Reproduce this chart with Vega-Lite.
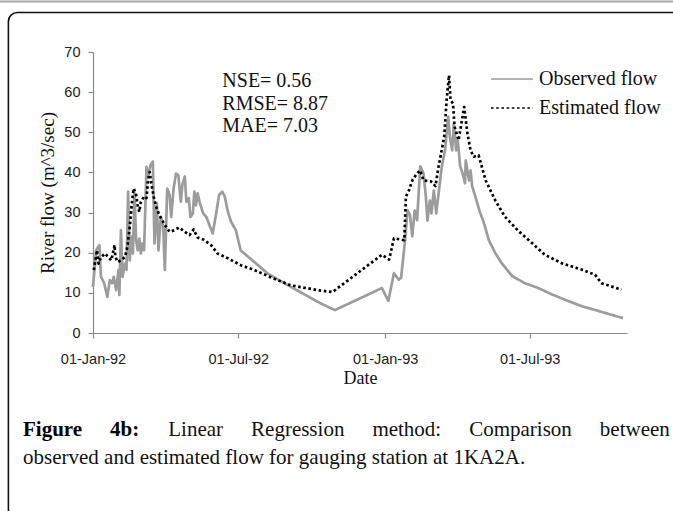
{
  "$schema": "https://vega.github.io/schema/vega-lite/v6.json",
  "width": 534,
  "height": 281,
  "autosize": {"type": "none"},
  "padding": {"left": 93, "top": 52, "right": 46, "bottom": 178},
  "background": "#ffffff",
  "config": {
    "view": {"stroke": null},
    "axis": {
      "grid": false,
      "domainColor": "#8a8a8a",
      "domainWidth": 1.2,
      "tickColor": "#8a8a8a",
      "tickWidth": 1.2,
      "tickSize": 5,
      "labelFont": "Liberation Sans",
      "labelFontSize": 14.5,
      "labelColor": "#222222",
      "titleFont": "Liberation Serif",
      "titleFontWeight": "normal",
      "titleColor": "#111111"
    },
    "legend": {
      "orient": "none",
      "legendX": 397,
      "legendY": 16,
      "symbolType": "stroke",
      "symbolSize": 1764,
      "clipHeight": 22,
      "labelFont": "Liberation Serif",
      "labelFontSize": 20,
      "labelColor": "#111111",
      "labelOffset": 5,
      "rowPadding": 7
    }
  },
  "title": {
    "text": "Figure\u00a0\u00a0\u00a0\u00a0\u00a0\u200a4b:",
    "subtitle": [
      "\u200b\u00a0\u00a0\u00a0\u00a0\u00a0\u00a0\u00a0\u00a0\u00a0\u00a0\u00a0\u00a0\u00a0\u00a0\u00a0\u00a0\u00a0\u00a0\u00a0\u00a0\u00a0\u00a0\u00a0\u00a0\u00a0\u00a0\u00a0\u200a\u200aLinear\u00a0\u00a0\u00a0\u00a0\u00a0\u200aRegression\u00a0\u00a0\u00a0\u00a0\u00a0\u200amethod:\u00a0\u00a0\u00a0\u00a0\u00a0\u200aComparison\u00a0\u00a0\u00a0\u00a0\u00a0\u200abetween",
      "observed and estimated flow for gauging station at 1KA2A."
    ],
    "orient": "bottom",
    "anchor": "start",
    "frame": "group",
    "dx": -70,
    "offset": -99,
    "font": "Liberation Serif",
    "fontSize": 21,
    "fontWeight": "bold",
    "color": "#000000",
    "subtitleFont": "Liberation Serif",
    "subtitleFontSize": 21,
    "subtitleFontWeight": "normal",
    "subtitleColor": "#111111",
    "subtitlePadding": -21,
    "subtitleLineHeight": 28
  },
  "datasets": {
    "flows": [
      {"date": "1992-01-01", "series": "Observed flow", "flow": 11.5},
      {"date": "1992-01-05", "series": "Observed flow", "flow": 20.6},
      {"date": "1992-01-09", "series": "Observed flow", "flow": 21.9},
      {"date": "1992-01-11", "series": "Observed flow", "flow": 14},
      {"date": "1992-01-15", "series": "Observed flow", "flow": 12.4},
      {"date": "1992-01-19", "series": "Observed flow", "flow": 9},
      {"date": "1992-01-22", "series": "Observed flow", "flow": 13.2},
      {"date": "1992-01-25", "series": "Observed flow", "flow": 12.4},
      {"date": "1992-01-27", "series": "Observed flow", "flow": 14},
      {"date": "1992-01-30", "series": "Observed flow", "flow": 10.7},
      {"date": "1992-02-02", "series": "Observed flow", "flow": 15.7},
      {"date": "1992-02-03", "series": "Observed flow", "flow": 9.5},
      {"date": "1992-02-05", "series": "Observed flow", "flow": 25.6},
      {"date": "1992-02-07", "series": "Observed flow", "flow": 14},
      {"date": "1992-02-10", "series": "Observed flow", "flow": 17.3},
      {"date": "1992-02-12", "series": "Observed flow", "flow": 15.7},
      {"date": "1992-02-14", "series": "Observed flow", "flow": 35.2},
      {"date": "1992-02-16", "series": "Observed flow", "flow": 18.1},
      {"date": "1992-02-18", "series": "Observed flow", "flow": 24},
      {"date": "1992-02-20", "series": "Observed flow", "flow": 19.8},
      {"date": "1992-02-22", "series": "Observed flow", "flow": 34.8},
      {"date": "1992-02-24", "series": "Observed flow", "flow": 23.1},
      {"date": "1992-02-26", "series": "Observed flow", "flow": 20.6},
      {"date": "1992-02-28", "series": "Observed flow", "flow": 23.5},
      {"date": "1992-03-01", "series": "Observed flow", "flow": 19.8},
      {"date": "1992-03-03", "series": "Observed flow", "flow": 22.3},
      {"date": "1992-03-05", "series": "Observed flow", "flow": 20.6},
      {"date": "1992-03-08", "series": "Observed flow", "flow": 41.4},
      {"date": "1992-03-10", "series": "Observed flow", "flow": 38.9},
      {"date": "1992-03-13", "series": "Observed flow", "flow": 41.8},
      {"date": "1992-03-16", "series": "Observed flow", "flow": 42.7},
      {"date": "1992-03-18", "series": "Observed flow", "flow": 22.3},
      {"date": "1992-03-21", "series": "Observed flow", "flow": 32.3},
      {"date": "1992-03-23", "series": "Observed flow", "flow": 20.6},
      {"date": "1992-03-26", "series": "Observed flow", "flow": 28.9},
      {"date": "1992-03-29", "series": "Observed flow", "flow": 26.4},
      {"date": "1992-03-31", "series": "Observed flow", "flow": 15.7},
      {"date": "1992-04-03", "series": "Observed flow", "flow": 36},
      {"date": "1992-04-06", "series": "Observed flow", "flow": 34.4},
      {"date": "1992-04-08", "series": "Observed flow", "flow": 28.9},
      {"date": "1992-04-11", "series": "Observed flow", "flow": 36},
      {"date": "1992-04-14", "series": "Observed flow", "flow": 39.7},
      {"date": "1992-04-17", "series": "Observed flow", "flow": 39.3},
      {"date": "1992-04-20", "series": "Observed flow", "flow": 32.7},
      {"date": "1992-04-22", "series": "Observed flow", "flow": 36.9},
      {"date": "1992-04-25", "series": "Observed flow", "flow": 39},
      {"date": "1992-04-27", "series": "Observed flow", "flow": 32.7},
      {"date": "1992-04-30", "series": "Observed flow", "flow": 33.6},
      {"date": "1992-05-02", "series": "Observed flow", "flow": 28.9},
      {"date": "1992-05-05", "series": "Observed flow", "flow": 29.7},
      {"date": "1992-05-07", "series": "Observed flow", "flow": 35.2},
      {"date": "1992-05-09", "series": "Observed flow", "flow": 31.8},
      {"date": "1992-05-11", "series": "Observed flow", "flow": 34.8},
      {"date": "1992-05-14", "series": "Observed flow", "flow": 32.3},
      {"date": "1992-05-18", "series": "Observed flow", "flow": 29.8},
      {"date": "1992-05-22", "series": "Observed flow", "flow": 28.9},
      {"date": "1992-05-26", "series": "Observed flow", "flow": 26.8},
      {"date": "1992-05-30", "series": "Observed flow", "flow": 24.8},
      {"date": "1992-06-03", "series": "Observed flow", "flow": 29.4},
      {"date": "1992-06-07", "series": "Observed flow", "flow": 34.4},
      {"date": "1992-06-11", "series": "Observed flow", "flow": 35.2},
      {"date": "1992-06-14", "series": "Observed flow", "flow": 34},
      {"date": "1992-06-18", "series": "Observed flow", "flow": 30.2},
      {"date": "1992-06-22", "series": "Observed flow", "flow": 27.7},
      {"date": "1992-06-28", "series": "Observed flow", "flow": 25.6},
      {"date": "1992-07-04", "series": "Observed flow", "flow": 20.6},
      {"date": "1992-07-11", "series": "Observed flow", "flow": 19.4},
      {"date": "1992-07-21", "series": "Observed flow", "flow": 17.7},
      {"date": "1992-08-07", "series": "Observed flow", "flow": 14.8},
      {"date": "1992-09-12", "series": "Observed flow", "flow": 10.7},
      {"date": "1992-10-11", "series": "Observed flow", "flow": 7.5},
      {"date": "1992-10-30", "series": "Observed flow", "flow": 5.7},
      {"date": "1992-12-28", "series": "Observed flow", "flow": 11.2},
      {"date": "1993-01-05", "series": "Observed flow", "flow": 8},
      {"date": "1993-01-12", "series": "Observed flow", "flow": 14.9},
      {"date": "1993-01-18", "series": "Observed flow", "flow": 13.3},
      {"date": "1993-01-21", "series": "Observed flow", "flow": 13.8},
      {"date": "1993-01-26", "series": "Observed flow", "flow": 23.1},
      {"date": "1993-01-29", "series": "Observed flow", "flow": 30.6},
      {"date": "1993-02-01", "series": "Observed flow", "flow": 29.5},
      {"date": "1993-02-04", "series": "Observed flow", "flow": 24.1},
      {"date": "1993-02-07", "series": "Observed flow", "flow": 30.5},
      {"date": "1993-02-10", "series": "Observed flow", "flow": 28.1},
      {"date": "1993-02-14", "series": "Observed flow", "flow": 41.5},
      {"date": "1993-02-18", "series": "Observed flow", "flow": 39.8},
      {"date": "1993-02-21", "series": "Observed flow", "flow": 34},
      {"date": "1993-02-23", "series": "Observed flow", "flow": 28},
      {"date": "1993-02-26", "series": "Observed flow", "flow": 33},
      {"date": "1993-02-28", "series": "Observed flow", "flow": 29.8},
      {"date": "1993-03-03", "series": "Observed flow", "flow": 35.5},
      {"date": "1993-03-06", "series": "Observed flow", "flow": 29.8},
      {"date": "1993-03-09", "series": "Observed flow", "flow": 34.8},
      {"date": "1993-03-13", "series": "Observed flow", "flow": 41.5},
      {"date": "1993-03-17", "series": "Observed flow", "flow": 45.5},
      {"date": "1993-03-21", "series": "Observed flow", "flow": 53.9},
      {"date": "1993-03-23", "series": "Observed flow", "flow": 48.9},
      {"date": "1993-03-26", "series": "Observed flow", "flow": 45.5},
      {"date": "1993-03-28", "series": "Observed flow", "flow": 52.2},
      {"date": "1993-03-31", "series": "Observed flow", "flow": 45.5},
      {"date": "1993-04-02", "series": "Observed flow", "flow": 48},
      {"date": "1993-04-05", "series": "Observed flow", "flow": 41.5},
      {"date": "1993-04-08", "series": "Observed flow", "flow": 39.8},
      {"date": "1993-04-11", "series": "Observed flow", "flow": 37.3},
      {"date": "1993-04-12", "series": "Observed flow", "flow": 43},
      {"date": "1993-04-16", "series": "Observed flow", "flow": 38},
      {"date": "1993-04-18", "series": "Observed flow", "flow": 40.5},
      {"date": "1993-04-20", "series": "Observed flow", "flow": 36.6},
      {"date": "1993-04-24", "series": "Observed flow", "flow": 34},
      {"date": "1993-04-30", "series": "Observed flow", "flow": 29.9},
      {"date": "1993-05-04", "series": "Observed flow", "flow": 27.9},
      {"date": "1993-05-11", "series": "Observed flow", "flow": 23.1},
      {"date": "1993-05-19", "series": "Observed flow", "flow": 19.9},
      {"date": "1993-05-27", "series": "Observed flow", "flow": 17.4},
      {"date": "1993-06-09", "series": "Observed flow", "flow": 14.2},
      {"date": "1993-06-25", "series": "Observed flow", "flow": 12.4},
      {"date": "1993-07-12", "series": "Observed flow", "flow": 11.2},
      {"date": "1993-07-29", "series": "Observed flow", "flow": 9.6},
      {"date": "1993-08-14", "series": "Observed flow", "flow": 8.3},
      {"date": "1993-09-04", "series": "Observed flow", "flow": 6.7},
      {"date": "1993-09-25", "series": "Observed flow", "flow": 5.5},
      {"date": "1993-10-26", "series": "Observed flow", "flow": 3.7},
      {"date": "1992-01-02", "series": "Estimated flow", "flow": 15.7},
      {"date": "1992-01-04", "series": "Estimated flow", "flow": 18.1},
      {"date": "1992-01-06", "series": "Estimated flow", "flow": 20.6},
      {"date": "1992-01-08", "series": "Estimated flow", "flow": 17.3},
      {"date": "1992-01-11", "series": "Estimated flow", "flow": 18.9},
      {"date": "1992-01-16", "series": "Estimated flow", "flow": 19.8},
      {"date": "1992-01-20", "series": "Estimated flow", "flow": 18.9},
      {"date": "1992-01-24", "series": "Estimated flow", "flow": 18.1},
      {"date": "1992-01-28", "series": "Estimated flow", "flow": 21.9},
      {"date": "1992-01-29", "series": "Estimated flow", "flow": 19},
      {"date": "1992-02-01", "series": "Estimated flow", "flow": 17.7},
      {"date": "1992-02-05", "series": "Estimated flow", "flow": 18.1},
      {"date": "1992-02-10", "series": "Estimated flow", "flow": 18.9},
      {"date": "1992-02-13", "series": "Estimated flow", "flow": 21.4},
      {"date": "1992-02-16", "series": "Estimated flow", "flow": 26.4},
      {"date": "1992-02-19", "series": "Estimated flow", "flow": 33.1},
      {"date": "1992-02-21", "series": "Estimated flow", "flow": 36},
      {"date": "1992-02-24", "series": "Estimated flow", "flow": 34.4},
      {"date": "1992-02-26", "series": "Estimated flow", "flow": 31.8},
      {"date": "1992-02-28", "series": "Estimated flow", "flow": 30.2},
      {"date": "1992-03-01", "series": "Estimated flow", "flow": 32.7},
      {"date": "1992-03-05", "series": "Estimated flow", "flow": 34},
      {"date": "1992-03-08", "series": "Estimated flow", "flow": 33.6},
      {"date": "1992-03-10", "series": "Estimated flow", "flow": 38.1},
      {"date": "1992-03-12", "series": "Estimated flow", "flow": 40.1},
      {"date": "1992-03-14", "series": "Estimated flow", "flow": 37.3},
      {"date": "1992-03-17", "series": "Estimated flow", "flow": 34},
      {"date": "1992-03-20", "series": "Estimated flow", "flow": 31.5},
      {"date": "1992-03-24", "series": "Estimated flow", "flow": 29.4},
      {"date": "1992-03-31", "series": "Estimated flow", "flow": 26.9},
      {"date": "1992-04-06", "series": "Estimated flow", "flow": 25.2},
      {"date": "1992-04-12", "series": "Estimated flow", "flow": 25.6},
      {"date": "1992-04-18", "series": "Estimated flow", "flow": 26.3},
      {"date": "1992-04-25", "series": "Estimated flow", "flow": 25.2},
      {"date": "1992-05-01", "series": "Estimated flow", "flow": 24.4},
      {"date": "1992-05-06", "series": "Estimated flow", "flow": 25.8},
      {"date": "1992-05-11", "series": "Estimated flow", "flow": 23.8},
      {"date": "1992-05-18", "series": "Estimated flow", "flow": 23.3},
      {"date": "1992-05-28", "series": "Estimated flow", "flow": 21.9},
      {"date": "1992-06-05", "series": "Estimated flow", "flow": 19.8},
      {"date": "1992-06-18", "series": "Estimated flow", "flow": 18.6},
      {"date": "1992-07-04", "series": "Estimated flow", "flow": 16.9},
      {"date": "1992-07-21", "series": "Estimated flow", "flow": 15.7},
      {"date": "1992-08-07", "series": "Estimated flow", "flow": 14.2},
      {"date": "1992-09-04", "series": "Estimated flow", "flow": 11.9},
      {"date": "1992-10-11", "series": "Estimated flow", "flow": 10.6},
      {"date": "1992-10-27", "series": "Estimated flow", "flow": 10.2},
      {"date": "1992-12-28", "series": "Estimated flow", "flow": 19.5},
      {"date": "1993-01-06", "series": "Estimated flow", "flow": 18.3},
      {"date": "1993-01-12", "series": "Estimated flow", "flow": 23.6},
      {"date": "1993-01-25", "series": "Estimated flow", "flow": 23.1},
      {"date": "1993-01-27", "series": "Estimated flow", "flow": 34},
      {"date": "1993-01-31", "series": "Estimated flow", "flow": 35.6},
      {"date": "1993-02-04", "series": "Estimated flow", "flow": 38},
      {"date": "1993-02-10", "series": "Estimated flow", "flow": 39.8},
      {"date": "1993-02-14", "series": "Estimated flow", "flow": 40.5},
      {"date": "1993-02-18", "series": "Estimated flow", "flow": 38},
      {"date": "1993-02-27", "series": "Estimated flow", "flow": 37.8},
      {"date": "1993-03-05", "series": "Estimated flow", "flow": 36.6},
      {"date": "1993-03-09", "series": "Estimated flow", "flow": 41.5},
      {"date": "1993-03-16", "series": "Estimated flow", "flow": 48.9},
      {"date": "1993-03-19", "series": "Estimated flow", "flow": 58},
      {"date": "1993-03-22", "series": "Estimated flow", "flow": 64.2},
      {"date": "1993-03-24", "series": "Estimated flow", "flow": 58},
      {"date": "1993-03-27", "series": "Estimated flow", "flow": 57.2},
      {"date": "1993-03-29", "series": "Estimated flow", "flow": 51.4},
      {"date": "1993-04-03", "series": "Estimated flow", "flow": 48},
      {"date": "1993-04-10", "series": "Estimated flow", "flow": 56.3},
      {"date": "1993-04-14", "series": "Estimated flow", "flow": 49.8},
      {"date": "1993-04-18", "series": "Estimated flow", "flow": 45.5},
      {"date": "1993-04-22", "series": "Estimated flow", "flow": 43.9},
      {"date": "1993-04-28", "series": "Estimated flow", "flow": 44.3},
      {"date": "1993-05-07", "series": "Estimated flow", "flow": 38},
      {"date": "1993-05-19", "series": "Estimated flow", "flow": 33},
      {"date": "1993-05-31", "series": "Estimated flow", "flow": 29},
      {"date": "1993-06-17", "series": "Estimated flow", "flow": 25.4},
      {"date": "1993-07-04", "series": "Estimated flow", "flow": 22.4},
      {"date": "1993-07-20", "series": "Estimated flow", "flow": 19.5},
      {"date": "1993-08-10", "series": "Estimated flow", "flow": 17.4},
      {"date": "1993-09-04", "series": "Estimated flow", "flow": 15.8},
      {"date": "1993-09-21", "series": "Estimated flow", "flow": 14.5},
      {"date": "1993-09-29", "series": "Estimated flow", "flow": 12.4},
      {"date": "1993-10-24", "series": "Estimated flow", "flow": 10.8}
    ],
    "frame": [{"kind": "frame"}]
  },
  "layer": [
    {
      "data": {"name": "frame"},
      "mark": {"type": "rect", "filled": false, "stroke": "#111111", "strokeWidth": 1.6, "cornerRadius": 9, "clip": false},
      "encoding": {
        "x": {"datum": {"year": 1991, "month": 9, "date": 17}, "type": "temporal", "scale": {"domain": [{"year": 1992, "month": 1, "date": 1}, {"year": 1993, "month": 10, "date": 31}]}},
        "x2": {"datum": {"year": 1994, "month": 3, "date": 1}},
        "y": {"datum": 79.85, "type": "quantitative", "scale": {"domain": [0, 70], "nice": false}},
        "y2": {"datum": -46}
      }
    },
    {
      "data": {"name": "frame"},
      "mark": {"type": "rule", "stroke": "#a8a8a8", "strokeWidth": 2, "clip": false},
      "encoding": {
        "x": {"datum": {"year": 1991, "month": 8, "date": 1}, "type": "temporal"},
        "x2": {"datum": {"year": 1994, "month": 3, "date": 1}},
        "y": {"datum": 82.6, "type": "quantitative"}
      }
    },
    {
      "data": {"name": "flows"},
      "mark": {"type": "line", "strokeWidth": 2.7, "strokeJoin": "round"},
      "encoding": {
        "x": {
          "field": "date", "type": "temporal", "title": "Date",
          "scale": {"domain": [{"year": 1992, "month": 1, "date": 1}, {"year": 1993, "month": 10, "date": 31}]},
          "axis": {
            "values": [{"year": 1992, "month": 1, "date": 1}, {"year": 1992, "month": 7, "date": 1}, {"year": 1993, "month": 1, "date": 1}, {"year": 1993, "month": 7, "date": 1}],
            "format": "%d-%b-%y",
            "labelPadding": 14,
            "titleFontSize": 18,
            "titlePadding": 4,
            "labelFlush": false
          }
        },
        "y": {
          "field": "flow", "type": "quantitative", "title": "River flow (m^3/sec)",
          "scale": {"domain": [0, 70], "nice": false},
          "axis": {"values": [0, 10, 20, 30, 40, 50, 60, 70], "labelPadding": 8, "titleFontSize": 19, "titlePadding": 6}
        },
        "color": {
          "field": "series", "type": "nominal", "title": null,
          "scale": {"domain": ["Observed flow", "Estimated flow"], "range": ["#9c9c9c", "#000000"]}
        },
        "strokeDash": {
          "field": "series", "type": "nominal", "title": null,
          "scale": {"domain": ["Observed flow", "Estimated flow"], "range": [[1, 0], [2.6, 2.6]]}
        }
      }
    },
    {
      "data": {"name": "frame"},
      "mark": {"type": "text", "text": ["NSE= 0.56", "RMSE= 8.87", "MAE= 7.03"], "align": "left", "baseline": "top", "lineHeight": 22.5, "font": "Liberation Serif", "fontSize": 20, "color": "#111111"},
      "encoding": {
        "x": {"datum": {"year": 1992, "month": 6, "date": 11}, "type": "temporal"},
        "y": {"datum": 65.2, "type": "quantitative"}
      }
    }
  ]
}
